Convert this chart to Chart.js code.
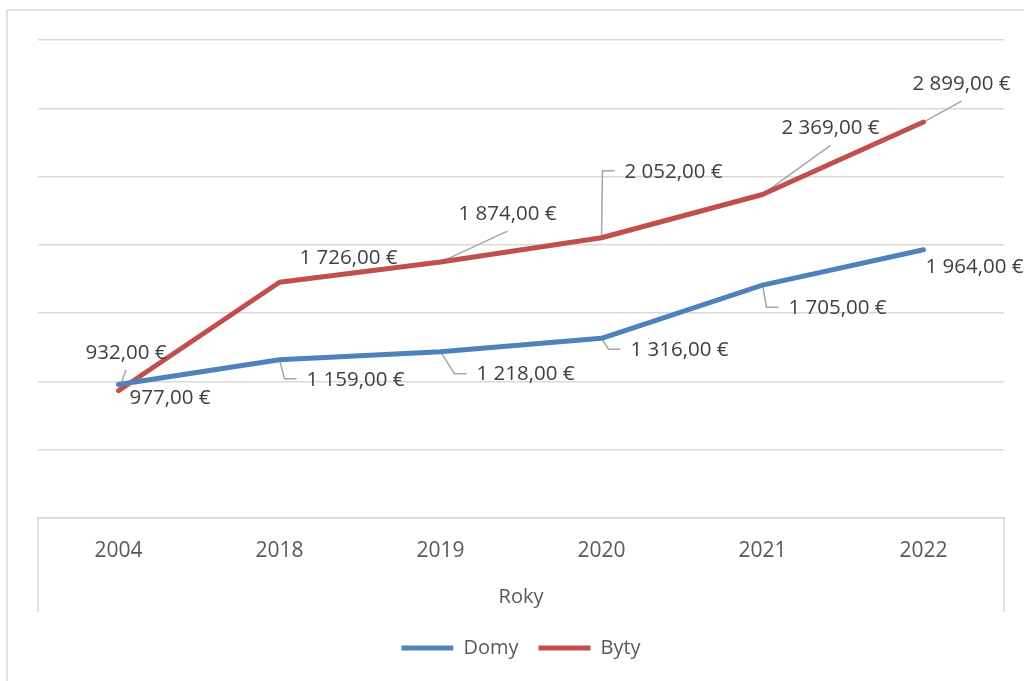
<!DOCTYPE html>
<html>
<head>
<meta charset="utf-8">
<script src="https://cdn.jsdelivr.net/npm/chart.js@4.4.1/dist/chart.umd.min.js"></script>
<style>
  body { margin: 0; background: #fff; }
</style>
</head>
<body>
<canvas id="priceChart" width="1024" height="681"></canvas>
<script>
const years = ["2004", "2018", "2019", "2020", "2021", "2022"];
const domy = [977, 1159, 1218, 1316, 1705, 1964];
const byty = [932, 1726, 1874, 2052, 2369, 2899];

// label placement: [left edge offset, center y offset] from the point, and leader type
const domyLabelPos = [[11, 14], [27, 20], [36, 23], [29, 12], [26, 23], [2, 17]];
const domyLeaders = ["none", "elbow", "elbow", "elbow", "elbow", "none"];
const bytyLabelPos = [[-33, -38], [20, -24], [18, -48], [23, -66], [19, -66], [-11, -38]];
const bytyLeaders = ["line", "none", "line", "elbow", "line", "line"];

const labelFont = '20.5px "Open Sans"';
const gridColor = "#d9d9d9";

function formatEur(v) {
  const parts = v.toFixed(2).split(".");
  parts[0] = parts[0].replace(/\B(?=(\d{3})+(?!\d))/g, " ");
  return parts[0] + "," + parts[1] + " €";
}

const placement = [
  { pos: domyLabelPos, leaders: domyLeaders },
  { pos: bytyLabelPos, leaders: bytyLeaders },
];

// frame, axis box and leader lines
const framePlugin = {
  id: "frame",
  beforeDatasetsDraw(chart) {
    const ctx = chart.ctx;
    const area = chart.chartArea;
    ctx.save();
    ctx.strokeStyle = gridColor;
    ctx.lineWidth = 1.5;
    ctx.beginPath();
    ctx.moveTo(7, 681);
    ctx.lineTo(7, 10);
    ctx.lineTo(1024, 10);
    ctx.moveTo(area.left, area.bottom);
    ctx.lineTo(area.left, 612);
    ctx.moveTo(area.right, area.bottom);
    ctx.lineTo(area.right, 612);
    ctx.stroke();

    ctx.font = labelFont;
    ctx.strokeStyle = "#a6a6a6";
    ctx.lineWidth = 1.5;
    chart.data.datasets.forEach((ds, i) => {
      const meta = chart.getDatasetMeta(i);
      meta.data.forEach((pt, j) => {
        const type = placement[i].leaders[j];
        if (type === "none") return;
        const off = placement[i].pos[j];
        const left = pt.x + off[0];
        const cy = pt.y + off[1];
        const w = ctx.measureText(formatEur(ds.data[j])).width;
        ctx.beginPath();
        ctx.moveTo(pt.x, pt.y);
        if (type === "elbow") {
          ctx.lineTo(left - 22, cy - 1);
          ctx.lineTo(left - 10, cy - 1);
        } else {
          ctx.lineTo(left + w / 2, cy + 17);
        }
        ctx.stroke();
      });
    });
    ctx.restore();
  },
  afterDatasetsDraw(chart) {
    const ctx = chart.ctx;
    ctx.save();
    ctx.font = labelFont;
    ctx.fillStyle = "#404040";
    ctx.textAlign = "left";
    ctx.textBaseline = "middle";
    chart.data.datasets.forEach((ds, i) => {
      const meta = chart.getDatasetMeta(i);
      meta.data.forEach((pt, j) => {
        const off = placement[i].pos[j];
        ctx.fillText(formatEur(ds.data[j]), pt.x + off[0], pt.y + off[1]);
      });
    });
    ctx.restore();
  },
};

const ctx = document.getElementById("priceChart").getContext("2d");
new Chart(ctx, {
  type: "line",
  data: {
    labels: years,
    datasets: [
      {
        label: "Domy",
        data: domy,
        borderColor: "#4f81bd",
        backgroundColor: "#4f81bd",
        borderWidth: 5,
        borderCapStyle: "round",
        borderJoinStyle: "round",
        pointRadius: 0,
        tension: 0,
      },
      {
        label: "Byty",
        data: byty,
        borderColor: "#c0504d",
        backgroundColor: "#c0504d",
        borderWidth: 5,
        borderCapStyle: "round",
        borderJoinStyle: "round",
        pointRadius: 0,
        tension: 0,
      },
    ],
  },
  options: {
    responsive: false,
    animation: false,
    devicePixelRatio: 1,
    layout: { padding: { left: 38, right: 20, top: 40, bottom: 13 } },
    scales: {
      x: {
        offset: true,
        grid: { display: false, drawTicks: false },
        border: { display: true, color: gridColor, width: 1.5 },
        ticks: {
          color: "#595959",
          font: { family: "Open Sans", size: 21 },
          padding: 20,
        },
        title: {
          display: true,
          text: "Roky",
          color: "#595959",
          font: { family: "Open Sans", size: 20 },
          padding: { top: 0, bottom: 9 },
        },
        afterFit(scale) {
          scale.height = 100;
        },
      },
      y: {
        min: 0,
        max: 3500,
        ticks: { display: false, stepSize: 500 },
        grid: { color: gridColor, lineWidth: 1.5, drawTicks: false },
        border: { display: false },
        afterFit(scale) {
          scale.width = 0;
        },
      },
    },
    plugins: {
      legend: {
        position: "bottom",
        labels: {
          usePointStyle: true,
          pointStyle: "line",
          pointStyleWidth: 52,
          color: "#595959",
          font: { family: "Open Sans", size: 20 },
          padding: 20,
        },
      },
      tooltip: { enabled: false },
    },
  },
  plugins: [framePlugin],
});
</script>
</body>
</html>
